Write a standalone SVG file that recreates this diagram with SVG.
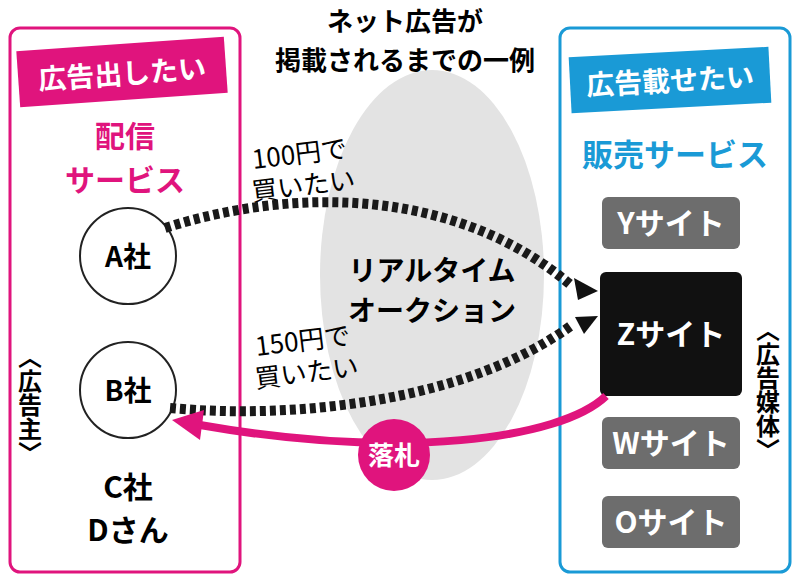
<svg xmlns="http://www.w3.org/2000/svg" width="798" height="580" viewBox="0 0 798 580">
<style>
.g{font-family:"Noto Sans CJK JP","Noto Sans",sans-serif;font-weight:bold;text-anchor:middle}
.s{font-family:"Noto Sans CJK JP","Liberation Serif",serif;text-anchor:middle;font-size:26px}
.site{fill:#6d6d6d}
.st{fill:#fff;font-size:30px}
.dot{fill:none;stroke:#1a1a1a;stroke-width:10;stroke-dasharray:6 4}
</style>
<rect width="798" height="580" fill="#fff"/>
<ellipse cx="432" cy="275" rx="112" ry="205" fill="#e3e3e3"/>
<g id="title"><text class="g" x="405" y="31" font-size="26">ネット広告が</text><text class="g" x="405" y="70" font-size="26">掲載されるまでの一例</text></g>
<g id="auction"><text class="g" x="432" y="281" font-size="28">リアルタイム</text><text class="g" x="432" y="321" font-size="28">オークション</text></g>
<g id="left">
<rect x="10" y="28" width="230" height="544" rx="10" fill="none" stroke="#e0147d" stroke-width="3"/>
<g transform="rotate(-4 122 72)"><rect x="18" y="44" width="208" height="56" fill="#e0147d"/><text class="g" x="122" y="84" font-size="28" fill="#fff">広告出したい</text></g>
<text class="g" x="125" y="147" font-size="30" fill="#e0147d">配信</text>
<text class="g" x="125" y="191" font-size="30" fill="#e0147d">サービス</text>
<text class="g" x="30" y="405" font-size="24" style="writing-mode:vertical-rl" text-anchor="middle">〈広告主〉</text>
<text class="g" x="128" y="498" font-size="30">C社</text>
<text class="g" x="128" y="541" font-size="30">Dさん</text>
</g>
<g id="A"><circle cx="128" cy="256" r="48" fill="#fff" stroke="#222" stroke-width="2"/><text class="g" x="128" y="267" font-size="28">A社</text></g>
<g id="B"><circle cx="128" cy="390" r="48" fill="#fff" stroke="#222" stroke-width="2"/><text class="g" x="128" y="401" font-size="28">B社</text></g>
<g id="right">
<rect x="560" y="28" width="230" height="544" rx="10" fill="none" stroke="#1a9ad6" stroke-width="3"/>
<g transform="rotate(-3 670 80)"><rect x="570" y="52" width="200" height="56" fill="#1a9ad6"/><text class="g" x="670" y="91" font-size="28" fill="#fff">広告載せたい</text></g>
<text class="g" x="675" y="166" font-size="31" fill="#1a9ad6">販売サービス</text>
<text class="g" x="768" y="390" font-size="24" style="writing-mode:vertical-rl" text-anchor="middle">〈広告媒体〉</text>
</g>
<g id="Y"><rect class="site" x="602" y="197" width="138" height="52" rx="6"/><text class="g st" x="671" y="234">Yサイト</text></g>
<g id="Z"><rect x="600" y="272" width="142" height="124" rx="6" fill="#111"/><text class="g st" x="671" y="345" font-size="32">Zサイト</text></g>
<g id="W"><rect class="site" x="602" y="417" width="138" height="52" rx="6"/><text class="g st" x="671" y="454">Wサイト</text></g>
<g id="O"><rect class="site" x="602" y="496" width="138" height="52" rx="6"/><text class="g st" x="671" y="533">Oサイト</text></g>
<g id="connectors">
<path class="dot" d="M165,228 C300,185 460,190 572,286"/>
<path d="M574,278 L598,291 L578,300 z" fill="#111"/>
<path class="dot" d="M170,408 C300,420 470,400 572,325"/>
<path d="M575,317 L598,316 L584,334 z" fill="#111"/>
<path d="M606,396 C560,440 400,460 200,425" fill="none" stroke="#e0147d" stroke-width="8"/>
<path d="M172,420 L204,410 L200,440 z" fill="#e0147d"/>
<g transform="rotate(-7 302 175)"><text class="s" x="302" y="163">100円で</text><text class="s" x="302" y="195">買いたい</text></g>
<g transform="rotate(-7 305 360)"><text class="s" x="305" y="350">150円で</text><text class="s" x="305" y="382">買いたい</text></g>
<circle cx="394" cy="455" r="36" fill="#e0147d"/><text class="g" x="394" y="465" font-size="26" fill="#fff">落札</text>
</g>
</svg>
